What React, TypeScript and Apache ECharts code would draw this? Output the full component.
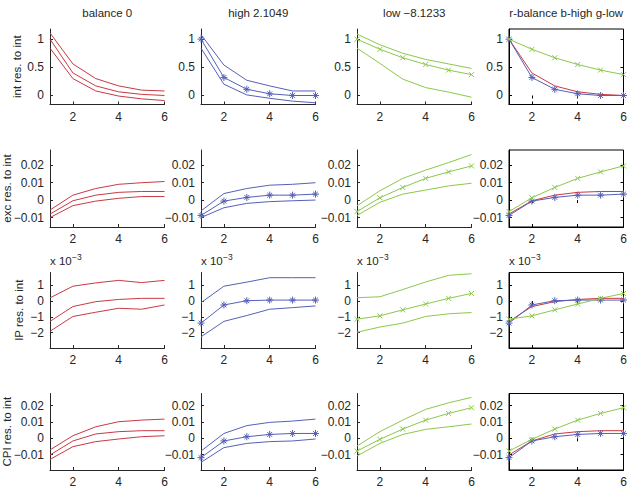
import React, { useEffect, useRef } from 'react';
import * as echarts from 'echarts';

// ---------------- data ----------------
const periods = [1, 2, 3, 4, 5, 6];
const xTicks = [2, 4, 6];

const titles = ['balance 0', 'high 2.1049', 'low \u22128.1233', 'r-balance b-high g-low'];
const rowLabels = ['int res. to int', 'exc res. to int', 'IP res. to int', 'CPI res. to int'];

const intTicks = [0, 0.5, 1];
const excTicks = [-0.01, 0, 0.01, 0.02];
const ipTicks = [-2, -1, 0, 1]; // x 10^-3
const cpiTicks = [-0.01, 0, 0.01, 0.02];

// interest rate response
const intBalanceHi = [1.11, 0.56, 0.3, 0.17, 0.095, 0.08];
const intBalanceMid = [1.0, 0.4, 0.17, 0.065, 0.02, 0.0];
const intBalanceLo = [0.84, 0.3, 0.08, -0.01, -0.06, -0.09];
const intHighHi = [1.08, 0.54, 0.27, 0.17, 0.08, 0.08];
const intHighMid = [1.0, 0.32, 0.11, 0.03, 0.0, 0.0];
const intHighLo = [0.84, 0.2, 0.01, -0.05, -0.1, -0.13];
const intLowHi = [1.09, 0.9, 0.75, 0.64, 0.56, 0.48];
const intLowMid = [1.0, 0.82, 0.67, 0.55, 0.45, 0.37];
const intLowLo = [0.84, 0.57, 0.29, 0.14, 0.06, -0.03];

// exchange rate response
const excBalanceHi = [-0.0057, 0.0028, 0.0066, 0.009, 0.0099, 0.0106];
const excBalanceMid = [-0.008, -0.0004, 0.0028, 0.0044, 0.0049, 0.0049];
const excBalanceLo = [-0.01, -0.0032, -0.0006, 0.001, 0.002, 0.002];
const excHighHi = [-0.0062, 0.0037, 0.0066, 0.0085, 0.009, 0.0099];
const excHighMid = [-0.0088, -0.0006, 0.0015, 0.0028, 0.0028, 0.0034];
const excHighLo = [-0.01, -0.0044, -0.0019, -0.0009, -0.0004, 0.0];
const excLowHi = [-0.0033, 0.0053, 0.0124, 0.0171, 0.0214, 0.026];
const excLowMid = [-0.0066, 0.0013, 0.0072, 0.0124, 0.0161, 0.0195];
const excLowLo = [-0.0088, -0.0013, 0.0034, 0.0057, 0.0081, 0.0096];

// industrial production response (units of 10^-3)
const ipBalanceHi = [0.2, 0.94, 1.15, 1.31, 1.17, 1.31];
const ipBalanceMid = [-1.29, -0.35, -0.04, 0.1, 0.17, 0.17];
const ipBalanceLo = [-1.92, -0.98, -0.71, -0.46, -0.52, -0.25];
const ipHighHi = [-0.1, 0.94, 1.2, 1.48, 1.48, 1.48];
const ipHighMid = [-1.4, -0.25, 0.02, 0.06, 0.06, 0.06];
const ipHighLo = [-2.27, -1.29, -0.92, -0.52, -0.42, -0.31];
const ipLowHi = [0.21, 0.27, 0.73, 1.21, 1.63, 1.73];
const ipLowMid = [-1.15, -0.94, -0.56, -0.19, 0.17, 0.48];
const ipLowLo = [-1.98, -1.65, -1.4, -0.98, -0.81, -0.73];

// CPI response
const cpiBalanceHi = [-0.0071, 0.0016, 0.0071, 0.0102, 0.0112, 0.0118];
const cpiBalanceMid = [-0.0102, -0.0016, 0.0027, 0.0041, 0.0047, 0.0047];
const cpiBalanceLo = [-0.0129, -0.0051, -0.002, -0.0004, 0.001, 0.0016];
const cpiHighHi = [-0.0078, 0.003, 0.0078, 0.0098, 0.0106, 0.0118];
const cpiHighMid = [-0.0118, -0.0016, 0.001, 0.0024, 0.003, 0.003];
const cpiHighLo = [-0.0147, -0.0057, -0.0031, -0.002, -0.0016, -0.0004];
const cpiLowHi = [-0.0047, 0.0041, 0.0112, 0.0178, 0.0218, 0.0251];
const cpiLowMid = [-0.0078, -0.0006, 0.0057, 0.0112, 0.0153, 0.0188];
const cpiLowLo = [-0.0108, -0.0031, 0.0024, 0.0055, 0.0071, 0.0088];

// ---------------- layout / style ----------------
const FONT = 'Liberation Sans, Arial, Helvetica, sans-serif';
const TXT = '#262626';
const RED = '#c83a44';
const BLUE = '#5560b8';
const GREEN = '#8cc84c';
const STAR = 'path://M5,0L5,10M0,5L10,5M1.6,1.6L8.4,8.4M1.6,8.4L8.4,1.6';
const CROSS = 'path://M0,0L10,10M0,10L10,0';

const colLeft = [50, 201, 357, 509];
const colWidth = 114.5;
const rowTop = [29, 150, 272.5, 393.5];
const rowHeight = [75.5, 77, 75.5, 76.5];
const rowMin = [-0.16, -0.0154, -2.98, -0.0194];
const rowMax = [1.18, 0.0286, 1.81, 0.0275];
const labelX = [17, 7, 19, 7];

const App: React.FC = () => {
  const ref = useRef<HTMLDivElement>(null);

  useEffect(() => {
    if (!ref.current) return;
    const chart = echarts.init(ref.current, undefined, { renderer: 'svg' });

    const rows = [
      { ticks: intTicks, sets: [[intBalanceHi, intBalanceMid, intBalanceLo], [intHighHi, intHighMid, intHighLo], [intLowHi, intLowMid, intLowLo]] },
      { ticks: excTicks, sets: [[excBalanceHi, excBalanceMid, excBalanceLo], [excHighHi, excHighMid, excHighLo], [excLowHi, excLowMid, excLowLo]] },
      { ticks: ipTicks, sets: [[ipBalanceHi, ipBalanceMid, ipBalanceLo], [ipHighHi, ipHighMid, ipHighLo], [ipLowHi, ipLowMid, ipLowLo]] },
      { ticks: cpiTicks, sets: [[cpiBalanceHi, cpiBalanceMid, cpiBalanceLo], [cpiHighHi, cpiHighMid, cpiHighLo], [cpiLowHi, cpiLowMid, cpiLowLo]] },
    ];
    const colors = [RED, BLUE, GREEN];
    const markers = ['none', STAR, CROSS];
    const markerSize = [0, 7, 5];

    const fmt = (v: number) => String(v).replace('-', '\u2212');

    const grids: any[] = [];
    const xAxes: any[] = [];
    const yAxes: any[] = [];
    const series: any[] = [];
    const graphics: any[] = [];

    const lineSeries = (xi: number, yi: number, arr: number[], color: string, m: number, z: number) => ({
      type: 'line',
      xAxisIndex: xi,
      yAxisIndex: yi,
      data: periods.map((p, i) => [p, arr[i]]),
      lineStyle: { width: 1, color },
      itemStyle: { color, borderColor: color, borderWidth: 1 },
      symbol: markers[m],
      symbolSize: markerSize[m],
      showSymbol: m !== 0,
      showAllSymbol: true,
      silent: true,
      z,
    });

    rows.forEach((row, r) => {
      for (let c = 0; c < 4; c++) {
        const box = c === 3;
        const gi = grids.length;
        grids.push({
          left: colLeft[c],
          top: rowTop[r],
          width: colWidth,
          height: rowHeight[r],
          containLabel: false,
          outerBoundsMode: 'none',
          show: box,
          borderColor: '#000',
          borderWidth: 1,
          backgroundColor: 'transparent',
        });
        const axisLine = { show: true, onZero: false, lineStyle: { color: box ? '#000' : TXT, width: 1 } };
        const tickStyle = { color: box ? '#000' : TXT, width: 1 };
        const xi = xAxes.length;
        xAxes.push({
          gridIndex: gi,
          type: 'value',
          min: 1,
          max: 6,
          position: 'bottom',
          axisLine,
          axisTick: { show: true, inside: true, length: 3, customValues: xTicks, lineStyle: tickStyle },
          axisLabel: { customValues: xTicks, fontSize: 12, fontFamily: FONT, color: TXT, margin: 6 },
          splitLine: { show: false },
        });
        const yi = yAxes.length;
        yAxes.push({
          gridIndex: gi,
          type: 'value',
          min: rowMin[r],
          max: rowMax[r],
          position: 'left',
          axisLine,
          axisTick: { show: true, inside: true, length: 3, customValues: row.ticks, lineStyle: tickStyle },
          axisLabel: { customValues: row.ticks, formatter: fmt, fontSize: 12, fontFamily: FONT, color: TXT, margin: 6 },
          splitLine: { show: false },
        });
        if (box) {
          xAxes.push({
            gridIndex: gi, type: 'value', min: 1, max: 6, position: 'top',
            axisLine: { show: false },
            axisTick: { show: true, inside: true, length: 3, customValues: xTicks, lineStyle: tickStyle },
            axisLabel: { show: false },
            splitLine: { show: false },
          });
          yAxes.push({
            gridIndex: gi, type: 'value', min: rowMin[r], max: rowMax[r], position: 'right',
            axisLine: { show: false },
            axisTick: { show: true, inside: true, length: 3, customValues: row.ticks, lineStyle: tickStyle },
            axisLabel: { show: false },
            splitLine: { show: false },
          });
          for (let k = 0; k < 3; k++) {
            series.push(lineSeries(xi, yi, row.sets[k][1], colors[k], k, 3 + k));
          }
        } else {
          const [hi, mid, lo] = row.sets[c];
          series.push(lineSeries(xi, yi, hi, colors[c], 0, 2));
          series.push(lineSeries(xi, yi, mid, colors[c], c, 3));
          series.push(lineSeries(xi, yi, lo, colors[c], 0, 2));
        }
        if (r === 2) {
          graphics.push({
            type: 'text', x: colLeft[c], y: 261, silent: true,
            style: { text: 'x 10', fontSize: 11.5, fontFamily: FONT, fill: TXT, align: 'left', verticalAlign: 'middle', textAlign: 'left', textVerticalAlign: 'middle' },
          });
          graphics.push({
            type: 'text', x: colLeft[c] + 22, y: 256.5, silent: true,
            style: { text: '\u22123', fontSize: 8.5, fontFamily: FONT, fill: TXT, align: 'left', verticalAlign: 'middle', textAlign: 'left', textVerticalAlign: 'middle' },
          });
        }
      }
      graphics.push({
        type: 'text', x: labelX[r], y: rowTop[r] + rowHeight[r] / 2, rotation: Math.PI / 2, silent: true,
        style: { text: rowLabels[r], fontSize: 11.5, fontFamily: FONT, fill: TXT, align: 'center', verticalAlign: 'middle', textAlign: 'center', textVerticalAlign: 'middle' },
      });
    });

    titles.forEach((t, c) => {
      graphics.push({
        type: 'text', x: colLeft[c] + colWidth / 2, y: 13, silent: true,
        style: { text: t, fontSize: 11.5, fontFamily: FONT, fill: TXT, align: 'center', verticalAlign: 'middle', textAlign: 'center', textVerticalAlign: 'middle' },
      });
    });

    chart.setOption({
      animation: false,
      backgroundColor: '#ffffff',
      grid: grids,
      xAxis: xAxes,
      yAxis: yAxes,
      series,
      graphic: graphics,
    });

    return () => chart.dispose();
  }, []);

  return <div ref={ref} style={{ position: 'absolute', left: 0, top: 0, width: 630, height: 488 }} />;
};

export default App;
